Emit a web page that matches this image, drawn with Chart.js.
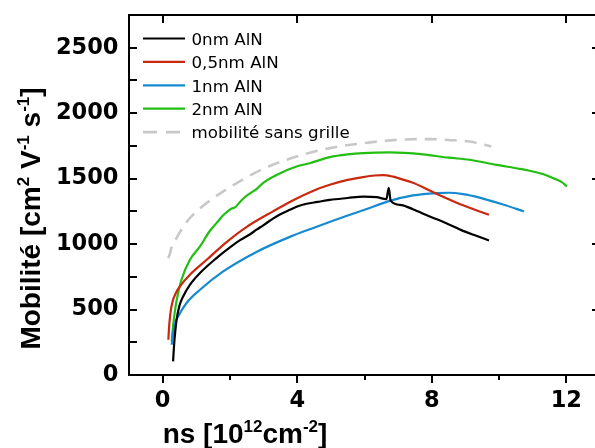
<!DOCTYPE html>
<html><head><meta charset="utf-8">
<script src="https://cdn.jsdelivr.net/npm/chart.js@4.4.0/dist/chart.umd.min.js"></script>
<style>
html,body{margin:0;padding:0;overflow:hidden;background:#fff;width:595px;height:448px}
#c{position:absolute;left:0;top:0}
</style>
</head><body>
<canvas id="c" width="610" height="448" style="width:610px;height:448px"></canvas>
<script>
// ---- data ----
const seriesLabels = ['0nm AlN', '0,5nm AlN', '1nm AlN', '2nm AlN', 'mobilité sans grille'];

const nm0X = [0.31, 0.34, 0.37, 0.42, 0.50, 0.61, 0.81, 1.11, 1.60, 2.00, 2.30, 2.60, 2.79, 3.00, 3.28, 3.50, 3.78, 4.00, 4.28, 4.60, 4.97, 5.50, 5.96, 6.36, 6.65, 6.72, 6.78, 7.10, 7.44, 7.94, 8.43, 8.93, 9.30, 9.70];
const nm0Y = [104, 230, 320, 430, 530, 600, 689, 779, 893, 975, 1030, 1075, 1110, 1145, 1195, 1228, 1262, 1287, 1308, 1322, 1338, 1352, 1363, 1359, 1343, 1430, 1330, 1298, 1266, 1211, 1160, 1101, 1065, 1028];

const nm05X = [0.17, 0.19, 0.22, 0.26, 0.31, 0.40, 0.51, 0.81, 1.31, 1.90, 2.49, 3.28, 3.88, 4.50, 4.97, 5.50, 5.96, 6.30, 6.55, 6.85, 7.05, 7.44, 8.14, 8.93, 9.70];
const nm05Y = [269, 360, 447, 520, 575, 630, 676, 766, 880, 1015, 1130, 1250, 1335, 1410, 1453, 1490, 1512, 1524, 1527, 1515, 1500, 1468, 1385, 1296, 1224];

const nm1X = [0.27, 0.29, 0.31, 0.36, 0.46, 0.71, 1.11, 1.80, 2.79, 3.78, 4.50, 5.00, 5.50, 6.00, 6.75, 7.44, 8.14, 8.50, 8.93, 9.42, 10.12, 10.74];
const nm1Y = [231, 280, 321, 390, 447, 550, 651, 791, 940, 1055, 1125, 1172, 1218, 1262, 1330, 1372, 1390, 1392, 1382, 1355, 1302, 1249];

const nm2X = [0.27, 0.29, 0.31, 0.36, 0.42, 0.56, 0.81, 1.11, 1.40, 1.60, 1.80, 2.05, 2.15, 2.30, 2.44, 2.64, 2.79, 2.99, 3.48, 3.98, 4.37, 4.97, 5.50, 5.96, 6.75, 7.74, 8.50, 9.12, 9.92, 10.61, 10.91, 11.30, 11.60, 11.85, 12.02];
const nm2Y = [257, 320, 371, 480, 575, 728, 880, 982, 1100, 1160, 1220, 1272, 1280, 1322, 1358, 1395, 1420, 1468, 1540, 1593, 1618, 1664, 1685, 1695, 1700, 1685, 1660, 1644, 1605, 1575, 1560, 1535, 1504, 1475, 1440];

const refX = [0.17, 0.22, 0.27, 0.40, 0.51, 0.75, 1.01, 1.50, 2.00, 2.50, 2.99, 3.98, 4.97, 5.96, 6.95, 7.64, 7.94, 8.50, 9.12, 9.77];
const refY = [893, 930, 982, 1040, 1090, 1180, 1250, 1350, 1435, 1510, 1575, 1669, 1733, 1771, 1796, 1802, 1802, 1795, 1783, 1745];

const xTickValues = [0, 4, 8, 12];
const yTickValues = [0, 500, 1000, 1500, 2000, 2500];
const xMin = -1, xMax = 13;
const yMin = 0, yMax = 2750;

const seriesColors = ['#000000', '#c8290f', '#168ad0', '#22bf12', '#c8c8c8'];

function pts(xs, ys) { return xs.map((v, i) => ({x: v, y: ys[i]})); }

const datasets = [
  {label: seriesLabels[0], data: pts(nm0X, nm0Y), borderColor: seriesColors[0], borderWidth: 2.2},
  {label: seriesLabels[1], data: pts(nm05X, nm05Y), borderColor: seriesColors[1], borderWidth: 2.2},
  {label: seriesLabels[2], data: pts(nm1X, nm1Y), borderColor: seriesColors[2], borderWidth: 2.2},
  {label: seriesLabels[3], data: pts(nm2X, nm2Y), borderColor: seriesColors[3], borderWidth: 2.2},
  {label: seriesLabels[4], data: pts(refX, refY), borderColor: seriesColors[4], borderWidth: 2.6, borderDash: [12, 8]}
].map(d => Object.assign({pointRadius: 0, fill: false, cubicInterpolationMode: 'monotone'}, d));

// ---- rich text helper (superscripts) ----
function drawRich(ctx, parts, x, y, size, supSize, rise) {
  const fBase = 'bold ' + size + 'px "Liberation Sans", Arial, sans-serif';
  const fSup = 'bold ' + supSize + 'px "Liberation Sans", Arial, sans-serif';
  let w = 0;
  parts.forEach(p => { ctx.font = p.s ? fSup : fBase; w += ctx.measureText(p.t).width; });
  let cx = x - w / 2;
  ctx.textAlign = 'left'; ctx.textBaseline = 'alphabetic';
  parts.forEach(p => {
    ctx.font = p.s ? fSup : fBase;
    ctx.fillText(p.t, cx, p.s ? y - rise : y);
    cx += ctx.measureText(p.t).width;
  });
}

const decorations = {
  id: 'decorations',
  afterDraw(chart) {
    const {ctx, chartArea: a, scales: {x, y}} = chart;
    ctx.save();
    ctx.strokeStyle = '#000';
    ctx.lineWidth = 2;
    ctx.strokeRect(a.left, a.top, a.right - a.left, a.bottom - a.top);
    ctx.beginPath();
    const xt = x.ticks.map(t => t.value);
    xt.forEach(v => {
      const p = Math.round(x.getPixelForValue(v));
      ctx.moveTo(p, a.bottom); ctx.lineTo(p, a.bottom + 8);
      ctx.moveTo(p, a.top); ctx.lineTo(p, a.top + 8);
    });
    for (let i = 0; i < xt.length - 1; i++) {
      const p = Math.round(x.getPixelForValue((xt[i] + xt[i + 1]) / 2));
      ctx.moveTo(p, a.bottom); ctx.lineTo(p, a.bottom + 5);
    }
    const yt = y.ticks.map(t => t.value);
    yt.forEach(v => {
      const p = Math.round(y.getPixelForValue(v));
      ctx.moveTo(a.left, p); ctx.lineTo(a.left + 8, p);
      ctx.moveTo(a.right, p); ctx.lineTo(a.right - 8, p);
    });
    for (let i = 0; i < yt.length - 1; i++) {
      const p = Math.round(y.getPixelForValue((yt[i] + yt[i + 1]) / 2));
      ctx.moveTo(a.left, p); ctx.lineTo(a.left + 8, p);
    }
    ctx.stroke();

    // legend
    const ds = chart.data.datasets;
    ds.forEach((d, i) => {
      const ly = 38.5 + i * 23.4;
      ctx.beginPath();
      ctx.strokeStyle = d.borderColor;
      ctx.lineWidth = d.borderWidth;
      ctx.setLineDash(d.borderDash ? [14, 9] : []);
      ctx.moveTo(143, ly); ctx.lineTo(185, ly);
      ctx.stroke();
      ctx.setLineDash([]);
      ctx.fillStyle = '#000';
      ctx.font = '16.7px "DejaVu Sans", sans-serif';
      ctx.textAlign = 'left'; ctx.textBaseline = 'alphabetic';
      ctx.fillText(d.label, 191.5, ly + 6.3);
    });

    // axis titles
    ctx.fillStyle = '#000';
    drawRich(ctx, [{t: 'ns [10'}, {t: '12', s: true}, {t: 'cm'}, {t: '-2', s: true}, {t: ']'}], 245, 443, 28, 17, 11);
    ctx.translate(39.5, 218.5);
    ctx.rotate(-Math.PI / 2);
    drawRich(ctx, [{t: 'Mobilité [cm'}, {t: '2', s: true}, {t: ' V'}, {t: '-1', s: true}, {t: ' s'}, {t: '-1', s: true}, {t: ']'}], 0, 0, 28, 17, 11);
    ctx.restore();
  }
};

const tickFont = {family: '"DejaVu Sans", sans-serif', weight: 'bold', size: 22.5};
function noPad(s) { s.paddingTop = 0; s.paddingBottom = 0; s.paddingLeft = 0; s.paddingRight = 0; }

new Chart(document.getElementById('c'), {
  type: 'line',
  data: {datasets},
  options: {
    responsive: false,
    animation: false,
    devicePixelRatio: 1,
    layout: {padding: {top: 15, right: 10, left: 0, bottom: 0}},
    plugins: {legend: {display: false}, tooltip: {enabled: false}},
    scales: {
      x: {
        type: 'linear', min: xMin, max: xMax,
        title: {display: false, text: 'ns [10¹²cm⁻²]'},
        border: {display: false},
        grid: {display: false, drawTicks: false},
        afterBuildTicks(s) { s.ticks = xTickValues.map(v => ({value: v})); },
        ticks: {padding: 13, color: '#000', font: tickFont, callback: v => String(v)},
        afterFit(s) { s.height = 73; noPad(s); }
      },
      y: {
        type: 'linear', min: yMin, max: yMax,
        title: {display: false, text: 'Mobilité [cm² V⁻¹ s⁻¹]'},
        border: {display: false},
        grid: {display: false, drawTicks: false},
        afterBuildTicks(s) { s.ticks = yTickValues.map(v => ({value: v})); },
        ticks: {padding: 10.5, color: '#000', font: tickFont, callback: v => String(v)},
        afterFit(s) { s.width = 129; noPad(s); }
      }
    }
  },
  plugins: [decorations]
});
</script>
</body></html>
